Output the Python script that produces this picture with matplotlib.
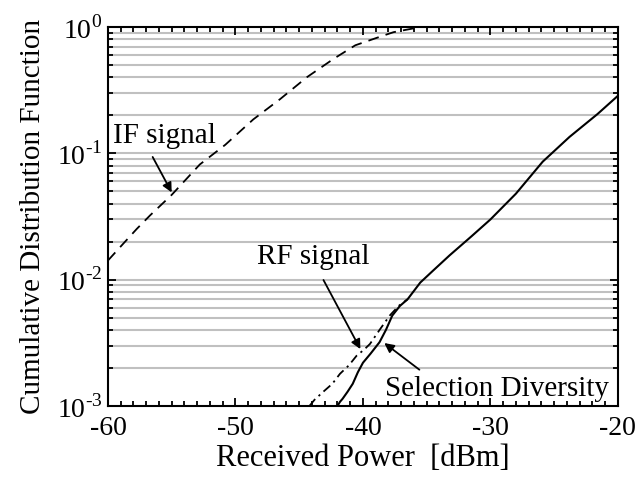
import numpy as np
import matplotlib
matplotlib.use('Agg')
import matplotlib.pyplot as plt
from matplotlib.ticker import FixedLocator, FixedFormatter, MultipleLocator, NullFormatter

plt.rcParams['font.family'] = ['Liberation Serif', 'DejaVu Serif']
plt.rcParams['mathtext.fontset'] = 'custom'
plt.rcParams['mathtext.rm'] = 'Liberation Serif'
plt.rcParams['axes.unicode_minus'] = False

# IF signal (dashed)
if_power = [-60.0, -58.7, -57.75, -56.7, -55.0, -52.8, -50.8, -48.6, -46.5, -44.4, -42.3,
            -40.6, -38.7, -37.6, -35.5, -20.0]
if_cdf = [0.0142, 0.0198, 0.0252, 0.0323, 0.047, 0.0817, 0.117, 0.186, 0.269, 0.401, 0.561,
          0.718, 0.837, 0.912, 1.0, 1.0]

# RF signal (dash-dot)
rf_power = [-44.2, -43.8, -43.1, -42.4, -41.8, -41.1, -40.5, -39.9, -39.45, -38.7, -37.9, -37.2, -36.5]
rf_cdf = [1.0e-3, 1.12e-3, 1.3e-3, 1.5e-3, 1.8e-3, 2.1e-3, 2.5e-3, 2.8e-3, 3.1e-3, 4.0e-3, 5.2e-3, 6.2e-3, 7.0e-3]

# Selection diversity (solid)
sd_power = [-42.0, -41.8, -41.6, -41.2, -40.8, -40.4, -40.0, -39.4, -38.7, -38.2, -37.7, -37.1,
            -36.5, -35.5, -34.5, -33.2, -31.5, -30.0, -28.0, -25.9, -23.8, -21.6, -20.0]
sd_cdf = [1.0e-3, 1.08e-3, 1.14e-3, 1.3e-3, 1.5e-3, 1.85e-3, 2.2e-3, 2.6e-3, 3.2e-3, 4.0e-3, 5.2e-3, 6.2e-3,
          7.0e-3, 9.5e-3, 1.18e-2, 1.56e-2, 2.2e-2, 3.0e-2, 4.8e-2, 8.6e-2, 0.135, 0.205, 0.286]

y_major = [1e-3, 1e-2, 1e-1, 1e0]
y_major_labels = [r'$10^{\text{-}3}$', r'$10^{\text{-}2}$', r'$10^{\text{-}1}$', r'$10^{0}$']
x_major = [-60, -50, -40, -30, -20]

fig = plt.figure(figsize=(6.39, 4.79), dpi=100)
ax = fig.add_axes([0.169, 0.1524, 0.798, 0.791])

y_minor = [m * d for d in [1e-3, 1e-2, 1e-1] for m in range(2, 10)]
for yv in y_minor + y_major[1:3]:
    ax.axhline(yv, color='#c0c0c0', lw=1.5, zorder=0)

ax.plot(if_power, if_cdf, color='black', lw=1.3, linestyle=(0, (6, 4)))
ax.plot(rf_power, rf_cdf, color='black', lw=1.3, linestyle=(0, (5, 2.5, 1.2, 2.5)))
ax.plot(sd_power, sd_cdf, color='black', lw=1.5)

ax.set_yscale('log')
ax.set_xlim(-60, -20)
ax.set_ylim(1e-3, 1)

ax.xaxis.set_major_locator(FixedLocator(x_major))
ax.xaxis.set_major_formatter(FixedFormatter([str(v) for v in x_major]))
ax.xaxis.set_minor_locator(MultipleLocator(1))
ax.yaxis.set_major_locator(FixedLocator(y_major))
ax.yaxis.set_major_formatter(FixedFormatter(y_major_labels))
ax.yaxis.set_minor_locator(FixedLocator(y_minor))
ax.yaxis.set_minor_formatter(NullFormatter())

ax.tick_params(which='both', direction='in', top=True, right=True, width=1.3, labelsize=20)
ax.tick_params(which='major', length=6, pad=4)
ax.tick_params(which='minor', length=3.5)
ax.tick_params(axis='x', which='major', pad=7.5)
for s in ax.spines.values():
    s.set_linewidth(1.5)

ax.set_xlabel('Received Power  [dBm]', fontsize=22, labelpad=2)
ax.set_ylabel('Cumulative Distribution Function', fontsize=21, labelpad=8)

arrow = dict(arrowstyle='-|>', color='black', lw=1.3, mutation_scale=14)
ax.text(-59.6, 0.12, 'IF signal', fontsize=21, ha='left', va='baseline')
ax.annotate('', xy=(-54.9, 0.047), xytext=(-56.6, 0.098), arrowprops=arrow)
ax.text(-48.3, 0.0132, 'RF signal', fontsize=21, ha='left', va='baseline')
ax.annotate('', xy=(-40.1, 2.7e-3), xytext=(-43.2, 1.04e-2), arrowprops=arrow)
ax.text(-38.3, 1.2e-3, 'Selection Diversity', fontsize=21, ha='left', va='baseline')
ax.annotate('', xy=(-38.5, 3.25e-3), xytext=(-35.4, 1.88e-3), arrowprops=arrow)

fig.savefig('out.png', dpi=100)
